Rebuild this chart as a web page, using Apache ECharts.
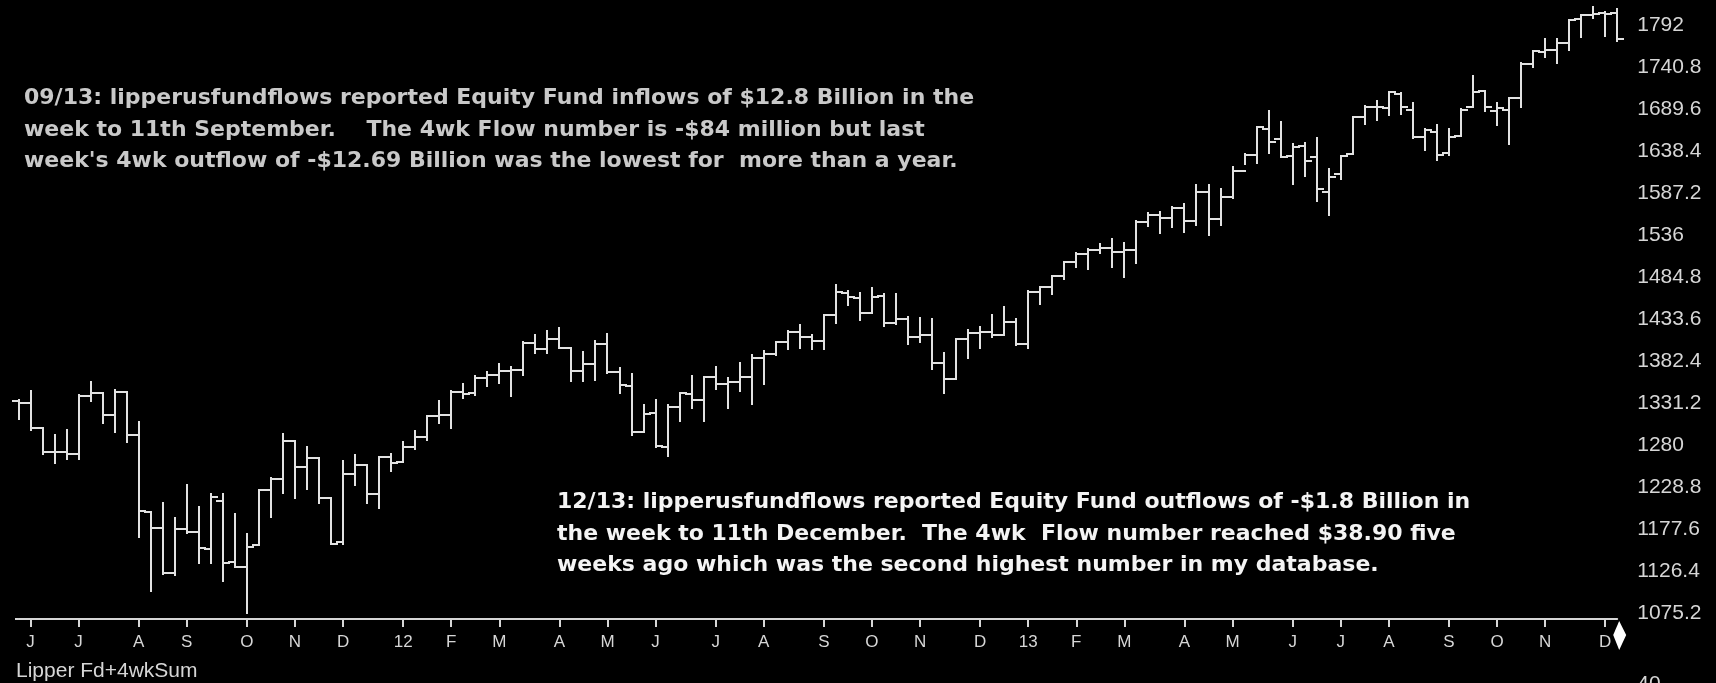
<!DOCTYPE html>
<html><head><meta charset="utf-8">
<script src="https://cdn.jsdelivr.net/npm/echarts@6.0.0/dist/echarts.min.js"></script>
<style>html,body{margin:0;padding:0;background:#000;}#chart{width:1716px;height:683px;}</style>
</head><body><div id="chart"></div>
<script>
// Week-ending dates (weekly bars)
const weeks = [
'2011-05-27','2011-06-03','2011-06-10','2011-06-17','2011-06-24','2011-07-01','2011-07-08','2011-07-15','2011-07-22','2011-07-29',
'2011-08-05','2011-08-12','2011-08-19','2011-08-26','2011-09-02','2011-09-09','2011-09-16','2011-09-23','2011-09-30','2011-10-07',
'2011-10-14','2011-10-21','2011-10-28','2011-11-04','2011-11-11','2011-11-18','2011-11-25','2011-12-02','2011-12-09','2011-12-16',
'2011-12-23','2011-12-30',
'2012-01-06','2012-01-13','2012-01-20','2012-01-27','2012-02-03','2012-02-10','2012-02-17','2012-02-24','2012-03-02','2012-03-09',
'2012-03-16','2012-03-23','2012-03-30','2012-04-06','2012-04-13','2012-04-20','2012-04-27','2012-05-04','2012-05-11','2012-05-18',
'2012-05-25','2012-06-01','2012-06-08','2012-06-15','2012-06-22','2012-06-29','2012-07-06','2012-07-13','2012-07-20','2012-07-27',
'2012-08-03','2012-08-10','2012-08-17','2012-08-24','2012-08-31','2012-09-07','2012-09-14','2012-09-21','2012-09-28','2012-10-05',
'2012-10-12','2012-10-19','2012-10-26','2012-11-02','2012-11-09','2012-11-16','2012-11-23','2012-11-30','2012-12-07','2012-12-14',
'2012-12-21','2012-12-28',
'2013-01-04','2013-01-11','2013-01-18','2013-01-25','2013-02-01','2013-02-08','2013-02-15','2013-02-22','2013-03-01','2013-03-08',
'2013-03-15','2013-03-22','2013-03-29','2013-04-05','2013-04-12','2013-04-19','2013-04-26','2013-05-03','2013-05-10','2013-05-17',
'2013-05-24','2013-05-31','2013-06-07','2013-06-14','2013-06-21','2013-06-28','2013-07-05','2013-07-12','2013-07-19','2013-07-26',
'2013-08-02','2013-08-09','2013-08-16','2013-08-23','2013-08-30','2013-09-06','2013-09-13','2013-09-20','2013-09-27','2013-10-04',
'2013-10-11','2013-10-18','2013-10-25','2013-11-01','2013-11-08','2013-11-15','2013-11-22','2013-11-29','2013-12-06','2013-12-13'
];
const opens = [
1333.1,1331.1,1300.3,1271.0,1271.5,1268.4,1339.6,1343.3,1315.9,1344.3,
1292.6,1198.5,1178.9,1123.6,1177.9,1174.0,1153.5,1211.9,1136.9,1131.2,
1158.2,1224.5,1238.7,1285.0,1253.2,1263.9,1215.6,1161.4,1244.3,1255.1,
1219.7,1265.0,
1258.9,1277.8,1289.1,1315.3,1316.2,1344.3,1343.1,1361.2,1365.2,1369.6,
1370.8,1404.2,1397.1,1408.5,1397.5,1370.3,1378.5,1403.3,1368.8,1351.9,
1295.7,1318.9,1277.8,1325.7,1342.4,1334.9,1362.3,1354.7,1356.5,1362.3,
1385.8,1391.0,1405.9,1418.1,1411.0,1406.5,1438.4,1465.4,1459.5,1440.9,
1461.4,1428.8,1433.7,1411.9,1414.0,1379.9,1359.9,1409.2,1416.3,1418.1,
1413.5,1430.1,
1402.4,1466.5,1472.1,1486.0,1503.0,1513.2,1517.9,1519.8,1515.6,1518.2,
1551.2,1560.7,1556.9,1569.2,1553.3,1588.8,1555.3,1582.3,1614.4,1633.7,
1665.7,1652.6,1631.7,1644.7,1630.6,1588.8,1609.8,1634.2,1679.6,1692.1,
1690.3,1708.0,1688.4,1655.3,1661.0,1636.0,1656.9,1691.7,1711.4,1687.3,
1688.2,1702.7,1744.7,1759.4,1762.0,1770.0,1798.8,1804.6,1806.6,1806.2
];
const highs = [
1334.6,1345.2,1301.0,1292.5,1298.6,1341.0,1356.5,1343.3,1347.0,1344.3,
1307.4,1198.5,1208.5,1190.7,1230.7,1204.4,1220.4,1220.1,1195.9,1171.4,
1224.6,1239.0,1292.7,1285.0,1277.6,1264.3,1215.6,1260.1,1267.1,1255.1,
1265.4,1269.4,
1283.1,1296.8,1315.5,1333.5,1345.3,1354.3,1363.4,1368.9,1378.0,1374.8,
1405.9,1414.0,1419.2,1422.4,1397.5,1392.8,1406.6,1415.3,1373.9,1365.9,
1328.5,1334.9,1329.1,1343.3,1363.5,1362.2,1374.8,1361.6,1380.4,1389.2,
1394.2,1405.9,1418.7,1426.7,1413.5,1437.9,1474.5,1467.1,1465.0,1471.0,
1464.0,1464.0,1435.5,1434.3,1433.4,1391.4,1409.2,1419.7,1423.7,1438.6,
1448.0,1433.0,
1467.9,1472.3,1486.0,1503.3,1514.4,1518.3,1524.7,1530.9,1525.8,1552.5,
1563.3,1564.0,1570.3,1573.7,1597.4,1597.4,1592.6,1618.5,1635.0,1667.5,
1687.2,1674.2,1646.5,1648.7,1654.2,1615.9,1631.9,1680.2,1693.1,1698.8,
1709.7,1709.2,1696.8,1664.9,1669.5,1664.8,1689.0,1729.9,1711.4,1696.6,
1703.4,1745.3,1759.8,1775.2,1774.5,1798.2,1804.8,1813.6,1808.4,1811.5
];
const lows = [
1311.8,1297.9,1268.5,1258.1,1262.9,1262.7,1333.5,1307.1,1295.9,1282.9,
1168.1,1101.5,1122.0,1121.1,1172.9,1136.1,1136.2,1114.2,1131.1,1074.8,
1158.2,1191.5,1221.1,1215.4,1226.6,1209.4,1158.7,1158.7,1231.5,1209.5,
1202.4,1248.6,
1258.9,1274.4,1286.0,1306.1,1300.5,1337.4,1340.8,1352.3,1354.9,1340.0,
1365.4,1391.6,1391.6,1397.5,1357.4,1357.4,1358.8,1367.9,1343.1,1292.0,
1295.7,1277.3,1266.7,1308.9,1324.4,1309.3,1348.4,1325.4,1345.1,1329.2,
1354.7,1389.7,1397.3,1398.0,1397.0,1396.6,1429.1,1450.0,1432.0,1440.9,
1425.5,1427.0,1403.3,1406.0,1373.0,1343.4,1359.9,1385.4,1398.1,1411.9,
1413.5,1401.6,
1398.1,1451.6,1463.8,1482.0,1496.3,1495.0,1513.6,1497.3,1485.0,1501.5,
1547.4,1538.6,1546.2,1539.5,1548.6,1536.0,1548.5,1581.3,1623.0,1623.7,
1635.5,1630.7,1598.2,1608.1,1577.7,1560.3,1604.6,1634.2,1671.8,1676.0,
1681.9,1683.4,1654.4,1639.4,1627.5,1633.4,1656.9,1691.7,1687.1,1670.4,
1646.5,1692.0,1740.5,1752.7,1746.2,1761.6,1777.2,1800.0,1779.1,1772.3
];
const closes = [
1331.1,1300.2,1271.0,1271.5,1268.5,1339.7,1343.8,1316.1,1345.0,1292.3,
1199.4,1178.8,1123.5,1176.8,1174.0,1154.2,1216.0,1136.4,1131.4,1155.5,
1224.6,1238.3,1285.1,1253.2,1263.9,1215.7,1158.7,1244.3,1255.2,1219.7,
1265.3,1257.6,
1277.8,1289.1,1315.4,1316.3,1344.9,1342.6,1361.2,1365.7,1369.6,1370.9,
1404.2,1397.1,1408.5,1398.1,1370.3,1378.5,1403.4,1369.1,1353.4,1295.2,
1317.8,1278.0,1325.7,1342.8,1335.0,1362.2,1354.7,1356.8,1362.7,1386.0,
1391.0,1405.9,1418.2,1411.1,1406.6,1437.9,1465.8,1460.2,1440.7,1460.9,
1428.6,1433.2,1411.9,1414.2,1379.9,1359.9,1409.2,1416.2,1418.1,1413.6,
1430.2,1402.4,
1466.5,1472.1,1486.0,1503.0,1513.2,1517.9,1519.8,1515.6,1518.2,1551.2,
1560.7,1556.9,1569.2,1553.3,1588.9,1555.3,1582.2,1614.4,1633.7,1667.5,
1649.6,1630.7,1643.4,1626.7,1592.4,1606.3,1631.9,1680.2,1692.1,1691.7,
1709.7,1691.4,1655.8,1663.5,1633.0,1655.2,1688.0,1709.9,1691.8,1690.5,
1703.2,1744.5,1759.8,1761.6,1770.6,1798.2,1804.8,1805.8,1805.1,1775.3
];
const priceTicks = ['1075.2','1126.4','1177.6','1228.8','1280','1331.2','1382.4','1433.6','1484.8','1536','1587.2','1638.4','1689.6','1740.8','1792'];
const monthLabels = ['J','J','A','S','O','N','D','12','F','M','A','M','J','J','A','S','O','N','D','13','F','M','A','M','J','J','A','S','O','N','D'];
const note1 = [
'09/13: lipperusfundflows reported Equity Fund inflows of $12.8 Billion in the',
'week to 11th September.    The 4wk Flow number is -$84 million but last',
"week's 4wk outflow of -$12.69 Billion was the lowest for  more than a year."
];
const note2 = [
'12/13: lipperusfundflows reported Equity Fund outflows of -$1.8 Billion in',
'the week to 11th December.  The 4wk  Flow number reached $38.90 five',
'weeks ago which was the second highest number in my database.'
];
const paneTitle = 'Lipper Fd+4wkSum';
const nextPaneTick = '40';

// first week of each month gets a tick + label
const labelByIndex = {};
let m = 0;
for (let i = 1; i < weeks.length; i++) {
  if (weeks[i].slice(5, 7) !== weeks[i - 1].slice(5, 7)) { labelByIndex[i] = monthLabels[m++]; }
}

const AXIS_COLOR = '#d6d6d6';
const BAR_COLOR = '#e2e2e2';
const FONT = "'Liberation Sans', Arial, sans-serif";
const NOTE_FONT = "'DejaVu Sans', Verdana, sans-serif";

function renderItem(params, api) {
  const i = api.value(0);
  const pO = api.coord([i, api.value(1)]);
  const pH = api.coord([i, api.value(2)]);
  const pL = api.coord([i, api.value(3)]);
  const pC = api.coord([i, api.value(4)]);
  const half = Math.round(api.size([1, 0])[0] / 2);
  const x = Math.round(pO[0]);
  const style = { stroke: BAR_COLOR, lineWidth: 2, lineCap: 'square' };
  return {
    type: 'group',
    children: [
      { type: 'line', shape: { x1: x, y1: Math.round(pH[1]), x2: x, y2: Math.round(pL[1]) }, style },
      { type: 'line', shape: { x1: x - half, y1: Math.round(pO[1]), x2: x, y2: Math.round(pO[1]) }, style },
      { type: 'line', shape: { x1: x, y1: Math.round(pC[1]), x2: x + half, y2: Math.round(pC[1]) }, style }
    ]
  };
}

const chart = echarts.init(document.getElementById('chart'), null, { renderer: 'canvas' });
chart.setOption({
  backgroundColor: '#000',
  animation: false,
  grid: { left: 18.5, right: 98.8, top: 0, bottom: 64 },
  xAxis: {
    type: 'category', data: weeks, boundaryGap: false,
    axisLine: { show: true, lineStyle: { color: AXIS_COLOR, width: 2 } },
    axisTick: { show: true, interval: (i) => (i in labelByIndex), length: 8, lineStyle: { color: AXIS_COLOR, width: 2 } },
    axisLabel: { show: true, interval: (i) => (i in labelByIndex), formatter: (v, i) => labelByIndex[i] || '',
      color: AXIS_COLOR, fontFamily: FONT, fontSize: 17, margin: 15 },
    splitLine: { show: false }
  },
  yAxis: {
    type: 'value', position: 'right', min: 1067.6, max: 1822.5,
    axisLine: { show: false }, axisTick: { show: false }, splitLine: { show: false },
    axisLabel: {
      customValues: priceTicks.map(Number),
      formatter: (v) => priceTicks.find(t => Math.abs(Number(t) - v) < 1e-6) || '',
      color: AXIS_COLOR, fontFamily: FONT, fontSize: 21, margin: 20, align: 'left'
    }
  },
  series: [{
    type: 'custom', renderItem, clip: false,
    data: weeks.map((w, i) => [i, opens[i], highs[i], lows[i], closes[i]]),
    encode: { x: 0, y: [1, 2, 3, 4] }
  }]
});

const xStart = chart.convertToPixel({ xAxisIndex: 0 }, 0);
const xEnd = chart.convertToPixel({ xAxisIndex: 0 }, weeks.length - 1);
const axisY = chart.convertToPixel({ yAxisIndex: 0 }, 1067.6);
const graphics = [];
note1.forEach((t, k) => graphics.push({ type: 'text', x: 24, y: 98 + k * 31.8,
  style: { text: t, fill: '#c9c9c9', fontFamily: NOTE_FONT, fontWeight: 'bold', fontSize: 22, verticalAlign: 'middle' } }));
note2.forEach((t, k) => graphics.push({ type: 'text', x: 557, y: 502 + k * 31.8,
  style: { text: t, fill: '#f4f4f4', fontFamily: NOTE_FONT, fontWeight: 'bold', fontSize: 22, verticalAlign: 'middle' } }));
graphics.push({ type: 'text', x: 16, y: 671, style: { text: paneTitle, fill: AXIS_COLOR, fontFamily: FONT, fontSize: 21, verticalAlign: 'middle' } });
graphics.push({ type: 'text', x: xEnd + 20, y: 674, style: { text: nextPaneTick, fill: AXIS_COLOR, fontFamily: FONT, fontSize: 21, verticalAlign: 'top' } });
graphics.push({ type: 'line', shape: { x1: 15, y1: axisY, x2: xStart, y2: axisY }, style: { stroke: AXIS_COLOR, lineWidth: 2 } });
graphics.push({ type: 'polygon', shape: { points: [[xEnd + 2, 621], [xEnd + 9, 635], [xEnd + 2, 650], [xEnd - 4, 635]] }, style: { fill: '#ffffff' } });
chart.setOption({ graphic: graphics });
</script>
</body></html>
